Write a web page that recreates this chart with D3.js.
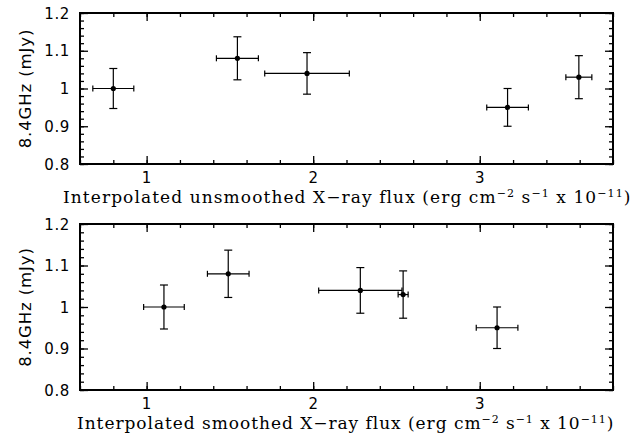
<!DOCTYPE html>
<html>
<head>
<meta charset="utf-8">
<script src="https://cdn.jsdelivr.net/npm/d3@7"></script>
<style>
  body { margin: 0; background: #fff; }
  svg { display: block; }
</style>
</head>
<body>
<div id="chart"></div>
<script>
// panel 1 : unsmoothed flux
const topX = [0.80, 1.545, 1.963, 3.167, 3.595];
const topXErr = [0.123, 0.126, 0.254, 0.125, 0.078];
const topY = [1.00, 1.08, 1.04, 0.95, 1.03];
const topYErr = [0.053, 0.057, 0.055, 0.05, 0.057];

// panel 2 : smoothed flux
const botX = [1.104, 1.49, 2.283, 2.54, 3.104];
const botXErr = [0.122, 0.125, 0.25, 0.03, 0.125];
const botY = [1.00, 1.08, 1.04, 1.03, 0.95];
const botYErr = [0.053, 0.057, 0.055, 0.057, 0.05];

const xMajor = [1, 2, 3];
const yMajor = [0.8, 0.9, 1.0, 1.1, 1.2];
const yLabel = "8.4GHz (mJy)";

const W = 640, H = 438;
const left = 80, right = 613;

const svg = d3.select("#chart").append("svg")
  .attr("width", W)
  .attr("height", H);

const xScale = d3.scaleLinear().domain([0.6, 3.8]).range([left, right]);

const xMinor = d3.range(0.6, 3.81, 0.2).map(v => +v.toFixed(2));
const yMinor = d3.range(0.8, 1.201, 0.02).map(v => +v.toFixed(2));

function drawPanel(top, bottom, xs, xe, ys, ye, titleWords, titleStart, titleEnd) {
  const yScale = d3.scaleLinear().domain([0.8, 1.2]).range([bottom, top]);
  const g = svg.append("g");

  // ticks on all four sides, pointing in
  const axes = [
    {ax: d3.axisBottom, tr: `translate(0,${bottom})`, sc: xScale},
    {ax: d3.axisTop, tr: `translate(0,${top})`, sc: xScale},
    {ax: d3.axisLeft, tr: `translate(${left},0)`, sc: yScale},
    {ax: d3.axisRight, tr: `translate(${right},0)`, sc: yScale}
  ];
  axes.forEach(a => {
    const isX = a.sc === xScale;
    g.append("g").attr("transform", a.tr)
      .call(a.ax(a.sc).tickValues(isX ? xMinor : yMinor).tickSize(-4).tickFormat(""))
      .call(s => s.select(".domain").remove())
      .selectAll("line").attr("stroke", "#000").attr("stroke-width", 1.3);
    g.append("g").attr("transform", a.tr)
      .call(a.ax(a.sc).tickValues(isX ? xMajor : yMajor).tickSize(-8).tickFormat(""))
      .call(s => s.select(".domain").remove())
      .selectAll("line").attr("stroke", "#000").attr("stroke-width", 1.3);
  });

  // frame
  g.append("rect")
    .attr("x", left).attr("y", top)
    .attr("width", right - left).attr("height", bottom - top)
    .attr("fill", "none").attr("stroke", "#000").attr("stroke-width", 2);

  // tick labels
  g.selectAll(".ylab").data(yMajor).join("text")
    .attr("x", 70).attr("y", d => yScale(d) + 5.5)
    .attr("text-anchor", "end")
    .attr("font-family", "DejaVu Sans, sans-serif")
    .attr("font-size", 15)
    .attr("letter-spacing", 0.6)
    .text(d => d === 1 ? "1" : d3.format(".1f")(d));

  g.selectAll(".xlab").data(xMajor).join("text")
    .attr("x", d => xScale(d)).attr("y", bottom + 19)
    .attr("text-anchor", "middle")
    .attr("font-family", "DejaVu Sans, sans-serif")
    .attr("font-size", 15)
    .text(d => d);

  g.append("text")
    .attr("transform", `translate(31,${(top + bottom) / 2}) rotate(-90)`)
    .attr("text-anchor", "middle")
    .attr("font-family", "DejaVu Sans, sans-serif")
    .attr("font-size", 16.5)
    .attr("letter-spacing", 0.9)
    .text(yLabel);

  // x axis title with superscripts
  const t = g.append("text")
    .attr("x", titleStart).attr("y", bottom + 39)
    .attr("font-family", "DejaVu Serif, serif")
    .attr("font-size", 17);
  t.append("tspan").text(titleWords + " X\u2212ray flux (erg cm");
  t.append("tspan").attr("font-size", 11).attr("dy", -6).text("\u22122");
  t.append("tspan").attr("dy", 6).text(" s");
  t.append("tspan").attr("font-size", 11).attr("dy", -6).text("\u22121");
  t.append("tspan").attr("dy", 6).text(" x 10");
  t.append("tspan").attr("font-size", 11).attr("dy", -6).text("\u221211");
  t.append("tspan").attr("dy", 6).text(")");
  // stretch spacing so the title spans the same width as in the original
  const nat = t.node().getComputedTextLength();
  const nChars = t.text().length;
  t.attr("letter-spacing", (titleEnd - titleStart - nat) / (nChars - 1));

  // error bars and points
  const pts = xs.map((x, i) => ({x, xe: xe[i], y: ys[i], ye: ye[i]}));
  const eb = g.append("g").attr("stroke", "#000").attr("stroke-width", 1.2);
  pts.forEach(d => {
    const cx = xScale(d.x), cy = yScale(d.y);
    const x0 = xScale(d.x - d.xe), x1 = xScale(d.x + d.xe);
    const y0 = yScale(d.y - d.ye), y1 = yScale(d.y + d.ye);
    eb.append("line").attr("x1", x0).attr("x2", x1).attr("y1", cy).attr("y2", cy);
    eb.append("line").attr("x1", x0).attr("x2", x0).attr("y1", cy - 3).attr("y2", cy + 3);
    eb.append("line").attr("x1", x1).attr("x2", x1).attr("y1", cy - 3).attr("y2", cy + 3);
    eb.append("line").attr("x1", cx).attr("x2", cx).attr("y1", y0).attr("y2", y1);
    eb.append("line").attr("x1", cx - 4).attr("x2", cx + 4).attr("y1", y0).attr("y2", y0);
    eb.append("line").attr("x1", cx - 4).attr("x2", cx + 4).attr("y1", y1).attr("y2", y1);
  });
  g.selectAll(".pt").data(pts).join("circle")
    .attr("cx", d => xScale(d.x)).attr("cy", d => yScale(d.y))
    .attr("r", 2.6).attr("fill", "#000");
}

drawPanel(13, 164, topX, topXErr, topY, topYErr, "Interpolated unsmoothed", 63, 630);
drawPanel(224, 390, botX, botXErr, botY, botYErr, "Interpolated smoothed", 77, 613);
</script>
</body>
</html>
